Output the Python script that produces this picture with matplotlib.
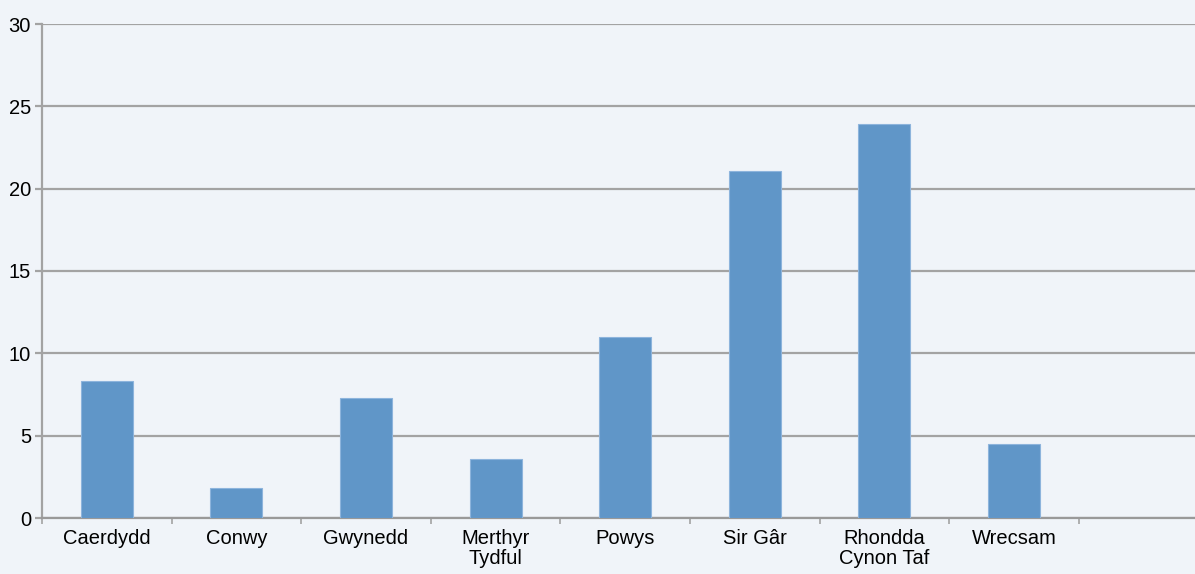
import numpy as np
import matplotlib.pyplot as plt

plt.rcParams['font.family'] = ['Liberation Sans', 'DejaVu Sans']

areas = ['Caerdydd', 'Conwy', 'Gwynedd', 'Merthyr\nTydful', 'Powys',
         'Sir Gâr', 'Rhondda\nCynon Taf', 'Wrecsam']
values = [8.3, 1.8, 7.3, 3.6, 11.0, 21.1, 23.9, 4.5]
yticks = [0, 5, 10, 15, 20, 25, 30]

bg = '#f0f4f9'
grey = '#a3a3a3'

fig = plt.figure(figsize=(11.95, 5.74), dpi=100, facecolor=bg)
ax = fig.add_axes([42 / 1195, 56 / 574, 1 - 42 / 1195, 494 / 574])
ax.set_facecolor(bg)

x = np.arange(len(areas))
ax.bar(x, values, width=0.4, color='#6096c8', edgecolor='#8db4dc', linewidth=0.8, zorder=3)

ax.set_ylim(0, 30)
ax.set_xlim(-0.5, -0.5 + 1153 / 129.6)
ax.set_yticks(yticks)
ax.yaxis.grid(True, color=grey, linewidth=1.6, zorder=0)

ax.set_xticks(x)
ax.set_xticklabels(areas, fontsize=14.5, linespacing=1.05, va='top')
ax.set_xticks(np.arange(9) - 0.5, minor=True)
ax.tick_params(axis='x', which='major', length=0, pad=8)
ax.tick_params(axis='x', which='minor', length=4, color=grey, width=1.2)
ax.tick_params(axis='y', labelsize=14.5, length=5, color=grey, width=1.6, pad=3)

for side in ['top', 'right']:
    ax.spines[side].set_visible(False)
ax.spines['left'].set_color(grey)
ax.spines['left'].set_linewidth(1.6)
ax.spines['bottom'].set_color('#999999')
ax.spines['bottom'].set_linewidth(1.6)

fig.savefig('out.png', dpi=100, facecolor=bg)
